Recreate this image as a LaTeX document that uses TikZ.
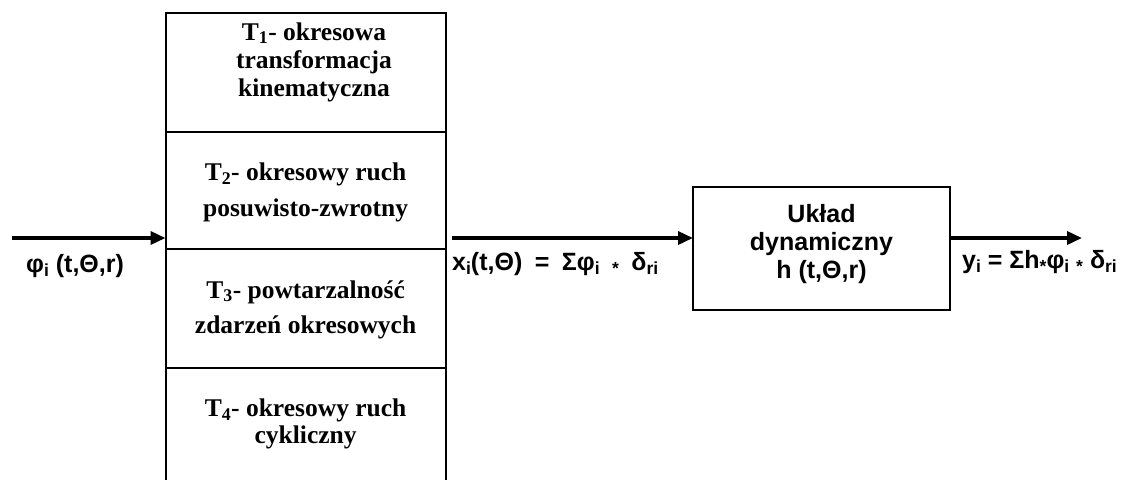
\documentclass[tikz,border=0pt]{standalone}
\usepackage{fontspec}
\setmainfont{Liberation Serif}
\newfontfamily\labelsans{Liberation Sans}
\usetikzlibrary{arrows.meta}
% lowered, reduced-size index used in the formulas
\newcommand\lowidx[1]{\raisebox{-4.5pt}{\fontsize{17.5}{17.5}\selectfont #1}}
\newcommand\wsp{\hspace{0.5em}}
\begin{document}
\begin{tikzpicture}[x=1pt,y=-1pt,
  frame/.style={draw, line width=2pt, minimum width=280.2pt, inner sep=0pt, outer sep=0pt},
  flow/.style={line width=3.5pt, -{Triangle[length=15pt,width=13pt]}},
  stacktext/.style={font=\fontsize{25.5}{28}\selectfont\bfseries, anchor=base, inner sep=0pt},
  boxtext/.style={font=\labelsans\fontsize{25}{28}\selectfont\bfseries, anchor=base, inner sep=0pt},
  sig/.style={font=\labelsans\fontsize{25}{28}\selectfont\bfseries, anchor=base west, inner sep=0pt}]
\useasboundingbox (0,0) rectangle (1121,480);

% stack of transformation sections
\node[frame, minimum height=118.2pt] (sec1) at (305.6,72.4) {};
\node[frame, minimum height=117.5pt] (sec2) at (305.6,190.25) {};
\node[frame, minimum height=119pt] (sec3) at (305.6,308.5) {};
\node[minimum width=280.2pt, minimum height=112pt, inner sep=0pt, outer sep=0pt] (sec4) at (305.6,424) {};
\draw[line width=2pt] (sec4.north west) -- (sec4.south west)
                      (sec4.north east) -- (sec4.south east);

\node[stacktext] (t1a) at (314,40) {T\textsubscript{1}- okresowa};
\node[stacktext] (t1b) at (314,68) {transformacja};
\node[stacktext] (t1c) at (314,96) {kinematyczna};

\node[stacktext] (t2a) at (305.6,180.5) {T\textsubscript{2}- okresowy ruch};
\node[stacktext] (t2b) at (305.6,216) {posuwisto-zwrotny};

\node[stacktext] (t3a) at (305.6,298) {T\textsubscript{3}- powtarzalność};
\node[stacktext] (t3b) at (305.6,333) {zdarzeń okresowych};

\node[stacktext] (t4a) at (305.6,416.7) {T\textsubscript{4}- okresowy ruch};
\node[stacktext] (t4b) at (305.6,443) {cykliczny};

% dynamic system block
\node[draw, line width=2.2pt, minimum width=257pt, minimum height=123pt,
      inner sep=0pt, outer sep=0pt] (sys) at (821.5,248.5) {};
\node[boxtext] (s1) at (821.5,222) {Układ};
\node[boxtext] (s2) at (821.5,250) {dynamiczny};
\node[boxtext] (s3) at (821.5,278) {h (t,Θ,r)};

% signal flow
\coordinate (src) at (12,238);
\coordinate (snk) at (1082,238);
\path (sec2.east |- src) ++(6,0) coordinate (mids);
\draw[flow] (src) -- (src -| sec2.west);
\draw[flow] (mids) -- (src -| sys.west);
\draw[flow] (src -| sys.east) -- (snk);

% signal labels
\node[sig] (lin) at (26,272) {φ\lowidx{i} (t,Θ,r)};
\node[sig] (lmid) at (452,270) {x\lowidx{i}(t,Θ)\wsp=\wsp Σφ\lowidx{i}\wsp\lowidx{*}\wsp δ\lowidx{ri}};
\node[sig] (lout) at (962,268) {y\lowidx{i} = Σh\lowidx{*}φ\lowidx{i} \lowidx{*} δ\lowidx{ri}};
\end{tikzpicture}
\end{document}
